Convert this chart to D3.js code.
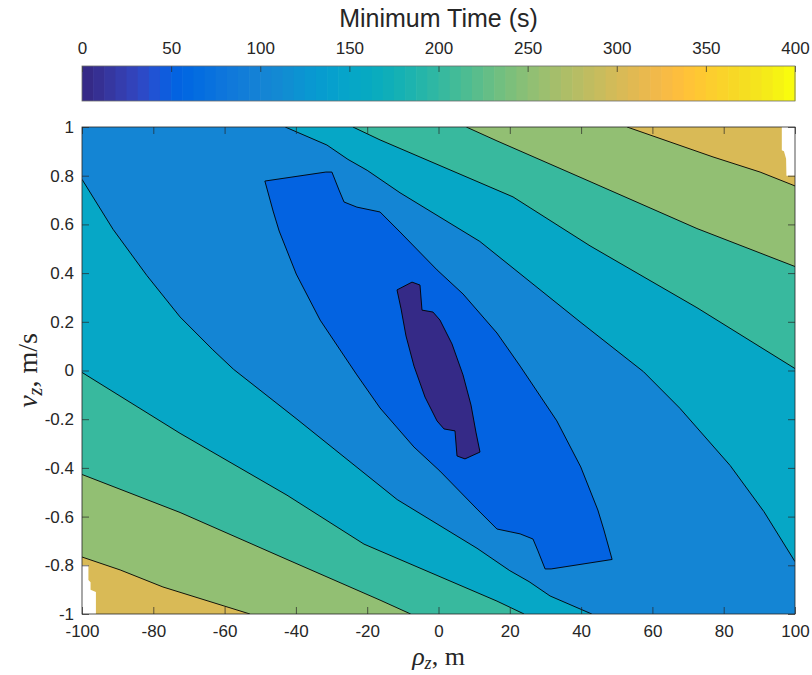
<!DOCTYPE html>
<html>
<head>
<meta charset="utf-8">
<title>Minimum Time</title>
<script src="https://cdn.jsdelivr.net/npm/d3@7"></script>
<style>
  html, body { margin: 0; padding: 0; background: #ffffff; }
  svg { display: block; }
  .tick text, .lbl { font-family: "Liberation Sans", Arial, Helvetica, sans-serif; fill: #262626; }
</style>
</head>
<body>
<svg id="chart" width="812" height="675"></svg>
<script>
// ---- Levels and ticks ----
const contourLevels = [0, 50, 100, 150, 200, 250, 300, 350, 400];
const colorbarTicks = [0, 50, 100, 150, 200, 250, 300, 350, 400];
const xTickValues = [-100, -80, -60, -40, -20, 0, 20, 40, 60, 80, 100];
const yTickValues = [-1, -0.8, -0.6, -0.4, -0.2, 0, 0.2, 0.4, 0.6, 0.8, 1];

// ---- Contour curves, points are [rho_z (m), v_z (m/s)] ----
// Open curves run from the top/left border to the right/bottom border.
const upper300 = [[52.9, 1], [77.0, 0.877], [90.2, 0.815], [100, 0.758]];
const lower300 = [[-100, -0.766], [-89.3, -0.819], [-77.3, -0.889], [-52.9, -1]];

const upper250 = [[7.8, 1], [16.4, 0.943], [42.5, 0.776], [72.5, 0.583], [100, 0.427]];
const lower250 = [[-100, -0.427], [-72.5, -0.583], [-42.5, -0.776], [-16.4, -0.943], [-7.8, -1]];

const upper200 = [[-24, 1], [-16.4, 0.947], [20.9, 0.713], [42.5, 0.512], [72.5, 0.258], [100, 0.008]];
const lower200 = [[-100, -0.008], [-72.5, -0.258], [-42.5, -0.512], [-20.9, -0.713], [16.4, -0.947], [24, -1]];

const upper150 = [[-43, 1], [-31.3, 0.926], [-25.4, 0.867], [-20, 0.822], [-10.8, 0.73], [11.6, 0.53],
                  [39.7, 0.2], [57.5, -0.005], [67.7, -0.155], [81.8, -0.39], [91.3, -0.58], [100, -0.785]];
const lower150 = [[-100, 0.785], [-91.3, 0.58], [-81.8, 0.39], [-72.5, 0.22], [-63.3, 0.085], [-57.5, 0.005],
                  [-39.7, -0.2], [-11.6, -0.53], [10.8, -0.73], [20, -0.822], [25.4, -0.867], [31.3, -0.926], [43, -1]];

// Closed curves around the minimum
const closed100 = [[-48.7, 0.778], [-31.6, 0.815], [-29.9, 0.815], [-27.9, 0.741], [-26.5, 0.692], [-22.9, 0.671],
                   [-16.4, 0.651], [-10.8, 0.569], [-0.4, 0.413], [6.9, 0.314], [16.4, 0.154], [22.9, 0.018],
                   [25.7, -0.043], [33.2, -0.207], [39.9, -0.396], [44.7, -0.573], [46.4, -0.655], [48.7, -0.776],
                   [31.6, -0.815], [29.9, -0.815], [27.9, -0.741], [26.5, -0.692], [22.9, -0.671], [16.4, -0.651],
                   [10.8, -0.569], [0.4, -0.413], [-6.9, -0.314], [-16.4, -0.154], [-22.9, -0.018], [-25.7, 0.043],
                   [-33.2, 0.207], [-39.9, 0.396], [-44.7, 0.573], [-46.4, 0.655]];
const closed50 = [[-11.64, 0.331], [-7.43, 0.363], [-5.19, 0.351], [-4.63, 0.248], [-1.54, 0.240], [0.42, 0.207],
                  [3.79, 0.109], [6.87, -0.018], [9.12, -0.142], [10.5, -0.253], [11.64, -0.335], [7.43, -0.363],
                  [5.19, -0.351], [4.63, -0.248], [1.54, -0.240], [-0.42, -0.207], [-3.79, -0.109], [-6.87, 0.018],
                  [-9.12, 0.142], [-10.5, 0.253]];

// Corners where no solution was found (left unfilled)
const undefinedTopRight = [[96.3, 1], [100, 1], [100, 0.80], [97.6, 0.80], [97.5, 0.87], [96.9, 0.90], [96.3, 0.905]];
const undefinedBottomLeft = [[-100, -0.80], [-98.2, -0.80], [-98.2, -0.86], [-97.6, -0.87], [-97.6, -0.90],
                             [-96.1, -0.91], [-96.1, -1], [-100, -1]];

// ---- parula colormap (64 entries) ----
const parula = [
  [0.2081,0.1663,0.5292],[0.2116,0.1898,0.5777],[0.2123,0.2138,0.6270],[0.2081,0.2386,0.6771],
  [0.1959,0.2645,0.7279],[0.1707,0.2919,0.7792],[0.1253,0.3242,0.8303],[0.0591,0.3598,0.8683],
  [0.0117,0.3875,0.8820],[0.0060,0.4086,0.8828],[0.0165,0.4266,0.8786],[0.0329,0.4430,0.8720],
  [0.0498,0.4586,0.8641],[0.0629,0.4737,0.8554],[0.0723,0.4887,0.8467],[0.0779,0.5040,0.8384],
  [0.0793,0.5200,0.8312],[0.0749,0.5375,0.8263],[0.0641,0.5570,0.8240],[0.0488,0.5772,0.8228],
  [0.0343,0.5966,0.8199],[0.0265,0.6137,0.8135],[0.0239,0.6287,0.8038],[0.0231,0.6418,0.7913],
  [0.0228,0.6535,0.7768],[0.0267,0.6642,0.7607],[0.0384,0.6743,0.7436],[0.0590,0.6838,0.7254],
  [0.0843,0.6928,0.7062],[0.1133,0.7015,0.6859],[0.1453,0.7098,0.6646],[0.1801,0.7177,0.6424],
  [0.2178,0.7250,0.6193],[0.2586,0.7317,0.5954],[0.3022,0.7376,0.5712],[0.3482,0.7424,0.5473],
  [0.3953,0.7459,0.5244],[0.4420,0.7481,0.5033],[0.4871,0.7491,0.4840],[0.5300,0.7491,0.4661],
  [0.5709,0.7485,0.4494],[0.6099,0.7473,0.4337],[0.6473,0.7456,0.4188],[0.6834,0.7435,0.4044],
  [0.7184,0.7411,0.3905],[0.7525,0.7384,0.3768],[0.7858,0.7356,0.3633],[0.8185,0.7327,0.3498],
  [0.8507,0.7299,0.3360],[0.8824,0.7274,0.3217],[0.9139,0.7258,0.3063],[0.9450,0.7261,0.2886],
  [0.9739,0.7314,0.2666],[0.9938,0.7455,0.2403],[0.9990,0.7653,0.2164],[0.9955,0.7861,0.1967],
  [0.9880,0.8066,0.1794],[0.9789,0.8271,0.1633],[0.9697,0.8481,0.1475],[0.9626,0.8705,0.1309],
  [0.9589,0.8949,0.1132],[0.9598,0.9218,0.0948],[0.9661,0.9514,0.0755],[0.9763,0.9831,0.0538]
];
const cMin = contourLevels[0], cMax = contourLevels[contourLevels.length - 1];
const cmapColor = v => {
  const i = Math.max(0, Math.min(parula.length - 1, Math.floor((v - cMin) / (cMax - cMin) * parula.length)));
  const c = parula[i];
  return d3.rgb(c[0] * 255, c[1] * 255, c[2] * 255).formatHex();
};

// ---- Layout ----
const svg = d3.select("#chart");
const plot = { left: 82, right: 795, top: 127, bottom: 614 };
const x = d3.scaleLinear().domain([-100, 100]).range([plot.left, plot.right]);
const y = d3.scaleLinear().domain([-1, 1]).range([plot.bottom, plot.top]);
const ink = "#262626";

const lineOpen = d3.line().x(d => x(d[0])).y(d => y(d[1]));
const lineClosed = d3.line().x(d => x(d[0])).y(d => y(d[1])).curve(d3.curveLinearClosed);

// Region below a level: between its upper and lower curves, closed through the plot corners
function stripRegion(upper, lower) {
  const [x0, x1] = x.domain(), [y0, y1] = y.domain();
  return [...upper, [x1, y0], ...lower.slice().reverse(), [x0, y1]];
}

svg.append("defs").append("clipPath").attr("id", "plotClip")
  .append("rect").attr("x", plot.left).attr("y", plot.top)
  .attr("width", plot.right - plot.left).attr("height", plot.bottom - plot.top);

const g = svg.append("g").attr("clip-path", "url(#plotClip)");

// Highest band fills the whole area first
g.append("rect").attr("x", plot.left).attr("y", plot.top)
  .attr("width", plot.right - plot.left).attr("height", plot.bottom - plot.top)
  .attr("fill", cmapColor(300));

const strips = [
  { level: 300, upper: upper300, lower: lower300 },
  { level: 250, upper: upper250, lower: lower250 },
  { level: 200, upper: upper200, lower: lower200 },
  { level: 150, upper: upper150, lower: lower150 }
];
g.selectAll("path.strip").data(strips).join("path")
  .attr("class", "strip")
  .attr("d", s => lineClosed(stripRegion(s.upper, s.lower)))
  .attr("fill", s => cmapColor(s.level - 50));

const islands = [
  { level: 100, pts: closed100 },
  { level: 50, pts: closed50 }
];
g.selectAll("path.island").data(islands).join("path")
  .attr("class", "island")
  .attr("d", s => lineClosed(s.pts))
  .attr("fill", s => cmapColor(s.level - 50));

g.selectAll("path.undef").data([undefinedTopRight, undefinedBottomLeft]).join("path")
  .attr("class", "undef")
  .attr("d", d => lineClosed(d))
  .attr("fill", "#ffffff");

// Contour lines
const openCurves = [upper300, lower300, upper250, lower250, upper200, lower200, upper150, lower150];
g.selectAll("path.cline").data(openCurves).join("path")
  .attr("class", "cline")
  .attr("d", d => lineOpen(d))
  .attr("fill", "none").attr("stroke", "#000").attr("stroke-width", 0.9);
g.selectAll("path.cloop").data([closed100, closed50]).join("path")
  .attr("class", "cloop")
  .attr("d", d => lineClosed(d))
  .attr("fill", "none").attr("stroke", "#000").attr("stroke-width", 0.9);

// ---- Axes ----
const fmtX = d => String(d);
const fmtY = d => String(+d.toFixed(1));
const tickLen = 7;

function styleAxis(sel, fontSize) {
  sel.select(".domain").remove();
  sel.selectAll(".tick line").attr("stroke", ink).attr("stroke-width", 0.7);
  sel.selectAll(".tick text").attr("font-size", fontSize).attr("fill", ink);
}

svg.append("g").attr("transform", `translate(0,${plot.bottom})`)
  .call(d3.axisBottom(x).tickValues(xTickValues).tickSize(-tickLen).tickPadding(11).tickFormat(fmtX))
  .call(s => styleAxis(s, "17px"));
svg.append("g").attr("transform", `translate(0,${plot.top})`)
  .call(d3.axisTop(x).tickValues(xTickValues).tickSize(-tickLen).tickFormat(""))
  .call(s => styleAxis(s, "17px"));
svg.append("g").attr("transform", `translate(${plot.left},0)`)
  .call(d3.axisLeft(y).tickValues(yTickValues).tickSize(-tickLen).tickPadding(8).tickFormat(fmtY))
  .call(s => styleAxis(s, "17px"));
svg.append("g").attr("transform", `translate(${plot.right},0)`)
  .call(d3.axisRight(y).tickValues(yTickValues).tickSize(-tickLen).tickFormat(""))
  .call(s => styleAxis(s, "17px"));

svg.append("rect").attr("x", plot.left).attr("y", plot.top)
  .attr("width", plot.right - plot.left).attr("height", plot.bottom - plot.top)
  .attr("fill", "none").attr("stroke", ink).attr("stroke-width", 0.8);

// Axis labels (math style)
const serif = "'Liberation Serif', 'DejaVu Serif', 'Times New Roman', serif";
const xl = svg.append("text").attr("x", (plot.left + plot.right) / 2).attr("y", 665)
  .attr("text-anchor", "middle").attr("font-family", serif).attr("font-size", 26).attr("fill", ink);
xl.append("tspan").attr("font-style", "italic").text("ρ");
xl.append("tspan").attr("font-style", "italic").attr("font-size", 18).attr("dy", 4).text("z");
xl.append("tspan").attr("dy", -4).text(", m");

const yl = svg.append("text")
  .attr("transform", `translate(37,${(plot.top + plot.bottom) / 2}) rotate(-90)`)
  .attr("text-anchor", "middle").attr("font-family", serif).attr("font-size", 28).attr("fill", ink);
yl.append("tspan").attr("font-style", "italic").text("v");
yl.append("tspan").attr("font-style", "italic").attr("font-size", 20).attr("dy", 5).text("z");
yl.append("tspan").attr("dy", -5).text(", m/s");

// ---- Colorbar ----
const cb = { top: 66, bottom: 101 };
const cScale = d3.scaleLinear().domain([cMin, cMax]).range([plot.left, plot.right]);
const step = (cMax - cMin) / parula.length;
svg.append("g").selectAll("rect").data(d3.range(parula.length)).join("rect")
  .attr("x", i => cScale(cMin + i * step))
  .attr("y", cb.top)
  .attr("width", i => cScale(cMin + (i + 1) * step) - cScale(cMin + i * step) + 0.6)
  .attr("height", cb.bottom - cb.top)
  .attr("fill", i => cmapColor(cMin + (i + 0.5) * step));

svg.append("g").attr("transform", `translate(0,${cb.top})`)
  .call(d3.axisTop(cScale).tickValues(colorbarTicks).tickSize(-6).tickPadding(12).tickFormat(fmtX))
  .call(s => styleAxis(s, "17px"));

svg.append("rect").attr("x", plot.left).attr("y", cb.top)
  .attr("width", plot.right - plot.left).attr("height", cb.bottom - cb.top)
  .attr("fill", "none").attr("stroke", "#6b6b6b").attr("stroke-width", 0.8);

svg.append("text").attr("class", "lbl")
  .attr("x", (plot.left + plot.right) / 2).attr("y", 27)
  .attr("text-anchor", "middle").attr("font-size", 25)
  .text("Minimum Time (s)");
</script>
</body>
</html>
